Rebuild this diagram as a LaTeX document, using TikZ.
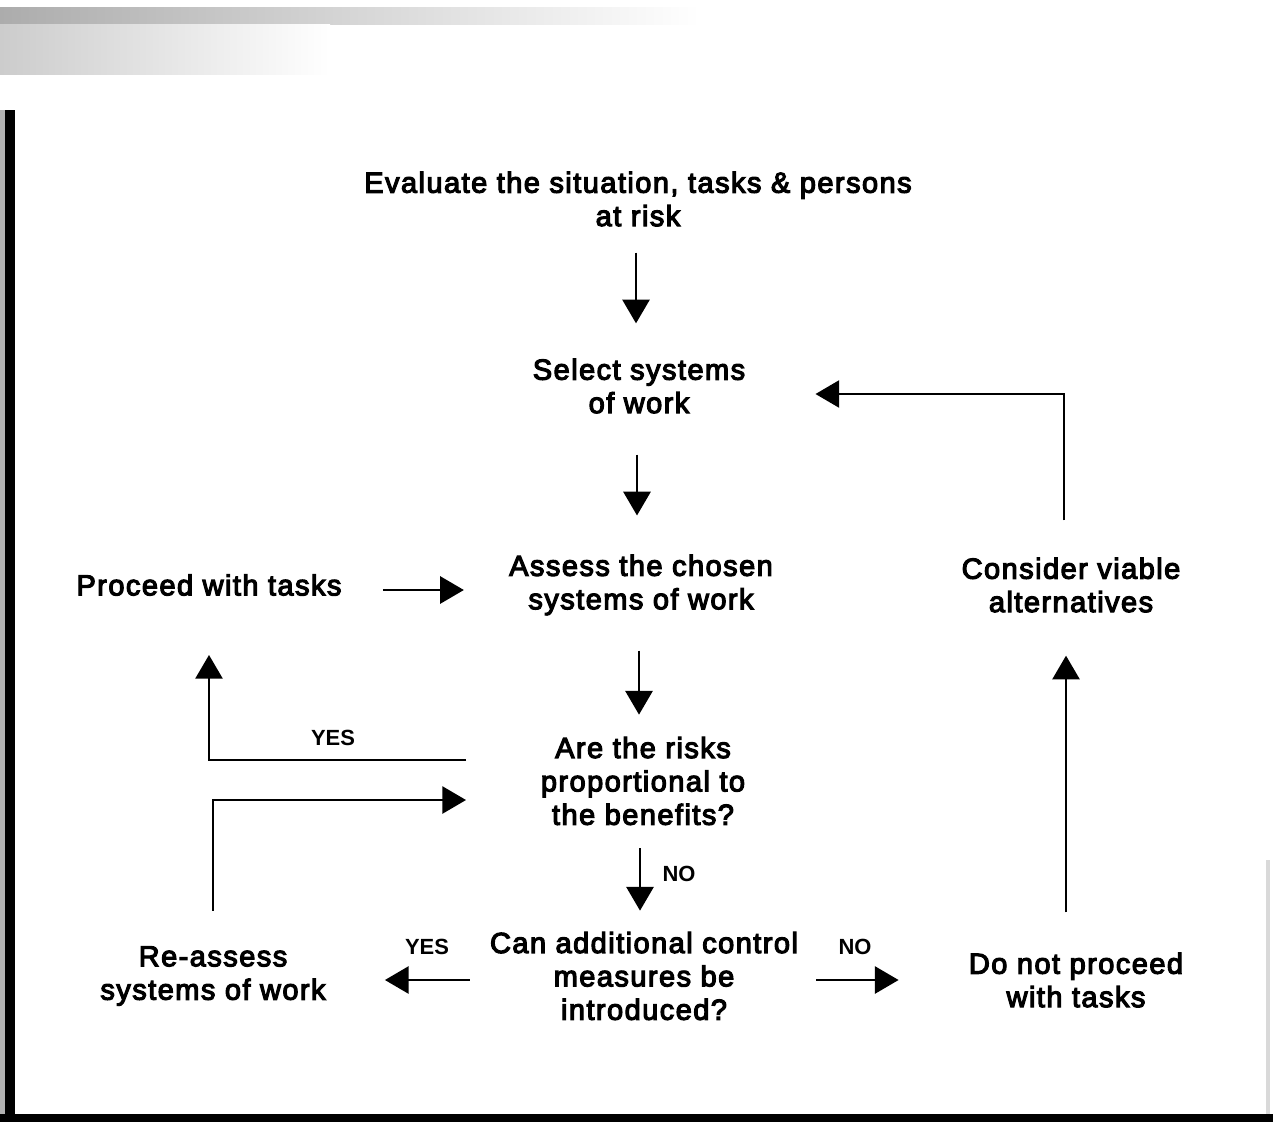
\documentclass[tikz,border=0pt]{standalone}
\usepackage{fontspec}
\usetikzlibrary{arrows.meta}
\newfontfamily\chartfont{Liberation Sans}[UprightFeatures={FakeBold=4},LetterSpace=5]
\newfontfamily\tagfont{Liberation Sans}

\begin{document}
\begin{tikzpicture}[x=0.02cm,y=-0.02cm,
	stage/.style={font=\chartfont\fontsize{16.5}{19}\selectfont,align=center,inner sep=0pt},
	tag/.style={font=\tagfont\bfseries\fontsize{12.5}{14}\selectfont,inner sep=0pt},
	flow/.style={line width=1.15pt,-{Triangle[length=13.5pt,width=15.5pt]}}]
	\useasboundingbox (0,0) rectangle (1273,1122);
	% scan edges
	\shade[left color=gray!65,right color=white] (0,8) rectangle (700,25);
	\shade[left color=gray!40,right color=white] (0,25) rectangle (330,75);
	\fill[gray!60] (0,110) rectangle (5,1122);
	\fill[black] (5,110) rectangle (15,1122);
	\fill[black] (0,1114) rectangle (1273,1122);
	\fill[gray!30] (1266,860) rectangle (1270,1114);

	\node[stage] (evaluate) at (638,199) {Evaluate the situation, tasks \& persons\\at risk};
	\node[stage] (select) at (639,386) {Select systems\\of work};
	\node[stage] (assess) at (641,585) {Assess the chosen\\systems of work};
	\node[stage] (proceed) at (209,585) {Proceed with tasks};
	\node[stage] (consider) at (1071,585) {Consider viable\\alternatives};
	\node[stage] (risks) at (643,781) {Are the risks\\proportional to\\the benefits?};
	\node[stage] (control) at (644,976) {Can additional control\\measures be\\introduced?};
	\node[stage] (reassess) at (213,976) {Re-assess\\systems of work};
	\node[stage] (stop) at (1076,980) {Do not proceed\\with tasks};

	\node[tag] (yesup) at (333,738) {YES};
	\node[tag] (yesleft) at (427,947) {YES};
	\node[tag] (noright) at (855,947) {NO};
	\node[tag] (nodown) at (679,874) {NO};

	\draw[flow,shorten <=0.52cm,shorten >=0.7cm] ([shift={(-2,0)}]evaluate.south) -- ([shift={(-2,0)}]evaluate.south |- select.north);
	\draw[flow,shorten <=0.82cm,shorten >=0.78cm] ([shift={(-2,0)}]select.south) -- ([shift={(-2,0)}]select.south |- assess.north);
	\draw[flow,shorten <=0.7cm,shorten >=0.44cm] ([shift={(-2,0)}]assess.south) -- ([shift={(-2,0)}]assess.south |- risks.north);
	\draw[flow,shorten <=0.46cm,shorten >=0.42cm] ([shift={(-3,0)}]risks.south) -- ([shift={(-3,0)}]risks.south |- control.north);
	\draw[flow,shorten <=0.82cm,shorten >=0.9cm] ([shift={(0,5)}]proceed.east) -- ([shift={(0,5)}]assess.west);
	\draw[flow,shorten <=0.4cm,shorten >=1.18cm] ([shift={(0,4)}]control.west) -- ([shift={(0,4)}]reassess.east);
	\draw[flow,shorten <=0.36cm,shorten >=1.4cm] ([shift={(0,4)}]control.east) -- (stop.west);
	\draw[flow,shorten <=0.8cm,shorten >=0.86cm] ([shift={(-10,0)}]stop.north) -- ([shift={(-5,0)}]consider.south);
	\draw[flow,shorten <=0.74cm,shorten >=1.4cm] ([shift={(-7,0)}]consider.north) |- ([shift={(0,8)}]select.east);
	\draw[flow,shorten >=1.18cm] ([shift={(-177,-21)}]risks.center) -| (proceed.south);
	\draw[flow,shorten <=0.7cm] (reassess.north) |- ([shift={(-177,19)}]risks.center);
\end{tikzpicture}
\end{document}
